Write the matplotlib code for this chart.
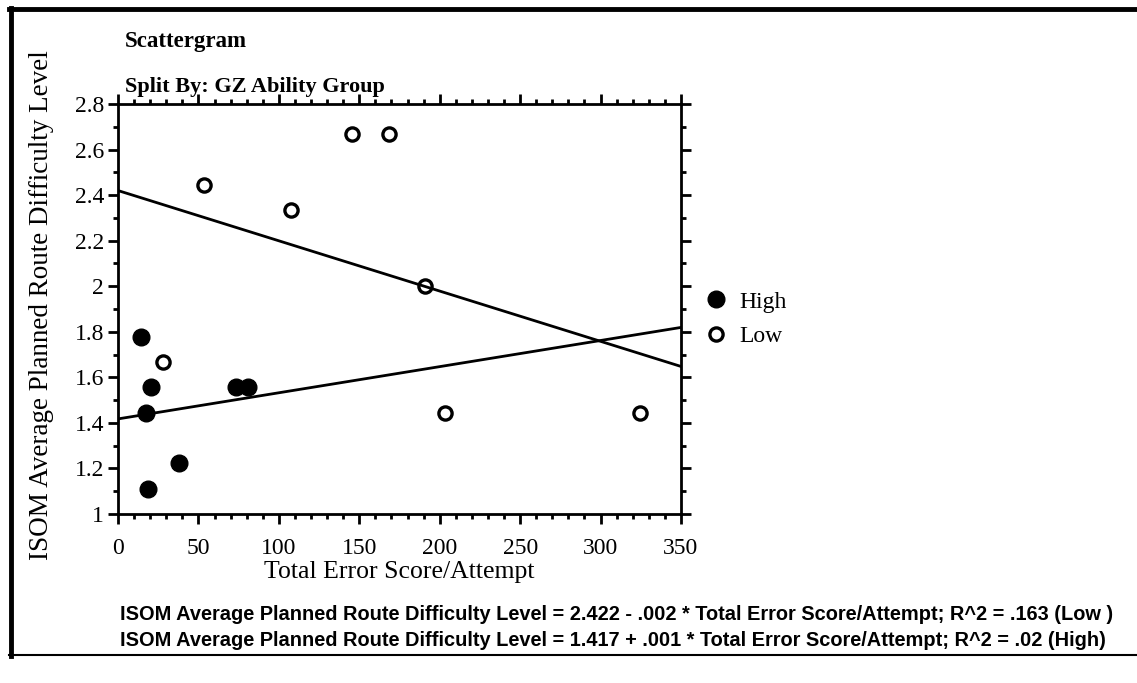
import numpy as np
import matplotlib.pyplot as plt
from matplotlib.lines import Line2D
from matplotlib.ticker import MultipleLocator

# values
high_x = [14.2, 17.2, 18.4, 20.3, 37.7, 73.3, 80.9]
high_y = [1.778, 1.444, 1.111, 1.556, 1.222, 1.556, 1.556]
low_x = [27.7, 53.4, 107.4, 145.3, 168.6, 190.7, 203.2, 324.8]
low_y = [1.667, 2.444, 2.333, 2.667, 2.667, 2.0, 1.444, 1.444]

x_ticks = [0, 50, 100, 150, 200, 250, 300, 350]
y_ticks = [1, 1.2, 1.4, 1.6, 1.8, 2, 2.2, 2.4, 2.6, 2.8]
y_tick_labels = ['1', '1.2', '1.4', '1.6', '1.8', '2', '2.2', '2.4', '2.6', '2.8']

eq_low = "ISOM Average Planned Route Difficulty Level = 2.422 - .002 * Total Error Score/Attempt; R^2 = .163 (Low )"
eq_high = "ISOM Average Planned Route Difficulty Level = 1.417 + .001 * Total Error Score/Attempt; R^2 = .02 (High)"

serif = 'Liberation Serif'
sans = 'Liberation Sans'
W, H = 1137, 683

fig = plt.figure(figsize=(W / 100, H / 100), dpi=100)
ax = fig.add_axes([118 / W, 1 - 514 / H, (681 - 118) / W, (514 - 104) / H])

ax.plot(high_x, high_y, 'o', color='black', markersize=12, label='High')
ax.plot(low_x, low_y, 'o', markerfacecolor='white', markeredgecolor='black',
        markeredgewidth=2.4, markersize=9.5, label='Low')

# regression lines fitted from the points
xs = np.array([0, 350])
for gx, gy in [(low_x, low_y), (high_x, high_y)]:
    b, a = np.polyfit(gx, gy, 1)
    ax.plot(xs, a + b * xs, color='black', linewidth=2)

ax.set_xlim(0, 350)
ax.set_ylim(1, 2.8)
ax.set_xticks(x_ticks)
ax.set_yticks(y_ticks)
ax.set_yticklabels(y_tick_labels)
ax.xaxis.set_minor_locator(MultipleLocator(10))
ax.yaxis.set_minor_locator(MultipleLocator(0.1))
ax.tick_params(which='both', direction='out', top=True, right=True, width=2,
               labelsize=17)
ax.tick_params(which='major', length=7)
ax.tick_params(which='minor', length=3.5)
ax.tick_params(axis='x', pad=10)
ax.tick_params(axis='y', pad=3)
for lab in ax.get_xticklabels() + ax.get_yticklabels():
    lab.set_fontfamily(serif)
for sp in ax.spines.values():
    sp.set_linewidth(2)

ax.set_xlabel('Total Error Score/Attempt', fontfamily=serif, fontsize=18.5, labelpad=2)
fig.text(42 / W, 1 - 305 / H, 'ISOM Average Planned Route Difficulty Level',
         rotation=90, ha='center', va='center', fontfamily=serif, fontsize=19.5)

fig.text(125 / W, 1 - 42 / H, 'Scattergram', fontfamily=serif, fontweight='bold',
         fontsize=16.5, va='center')
fig.text(125 / W, 1 - 87 / H, 'Split By: GZ Ability Group', fontfamily=serif,
         fontweight='bold', fontsize=16, va='center')

leg = ax.legend(loc='center left', bbox_to_anchor=(0.995, 0.475), frameon=False,
                prop={'family': serif, 'size': 17}, handletextpad=0.3,
                labelspacing=0.55, handlelength=1.4)

fig.text(120 / W, 1 - 615 / H, eq_low, fontfamily=sans, fontweight='bold',
         fontsize=14.4, va='center')
fig.text(120 / W, 1 - 640 / H, eq_high, fontfamily=sans, fontweight='bold',
         fontsize=14.4, va='center')

# page frame: left, top and bottom rules
fig.add_artist(Line2D([11 / W, 11 / W], [1 - 8 / H, 1 - 656 / H], color='black', linewidth=3.5))
fig.add_artist(Line2D([9 / W, 1], [1 - 9 / H, 1 - 9 / H], color='black', linewidth=3.5))
fig.add_artist(Line2D([9 / W, 1], [1 - 655 / H, 1 - 655 / H], color='black', linewidth=1.5))

fig.savefig('out.png', dpi=100)
